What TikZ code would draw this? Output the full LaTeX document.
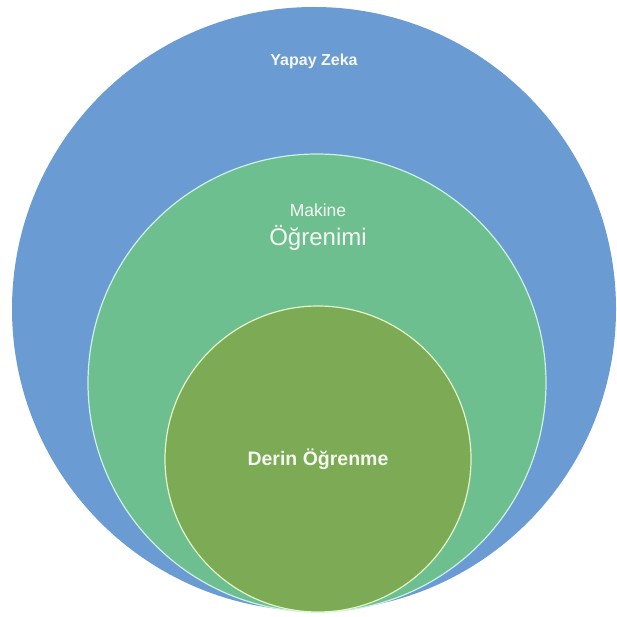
\documentclass[tikz,border=0pt]{standalone}
\usepackage{fontspec}
\setmainfont{Liberation Sans}
\definecolor{aiblue}{RGB}{106,155,210}
\definecolor{mlgreen}{RGB}{110,191,144}
\definecolor{dlgreen}{RGB}{125,170,84}
\definecolor{mledge}{RGB}{205,240,228}
\definecolor{dledge}{RGB}{228,245,200}
\definecolor{txt}{RGB}{245,248,242}
\begin{document}
\begin{tikzpicture}[x=1pt,y=-1pt,
  ring/.style={circle,inner sep=0pt,minimum size=#1},
  lbl/.style={text=txt,inner sep=0pt,align=center}]
\useasboundingbox (0,0) rectangle (616,617);
\fill[white] (0,0) rectangle (616,617);
\node[ring=604pt,fill=aiblue] (ai) at (314,309) {};
\node[ring=458pt,fill=mlgreen,draw=mledge,line width=1.2pt] (ml) at (317,383) {};
\node[ring=306pt,fill=dlgreen,draw=dledge,line width=1.2pt] (dl) at (318,459) {};
\node[lbl,font=\fontsize{16}{19}\selectfont\bfseries] (ait) at (314,61) {Yapay Zeka};
\node[lbl,font=\fontsize{17.5}{20}\selectfont] (mlt1) at (318,210) {Makine};
\node[lbl,font=\fontsize{24}{28}\selectfont] (mlt2) at (318,238) {Öğrenimi};
\node[lbl,font=\fontsize{19.5}{23}\selectfont\bfseries] (dlt) at (318,459) {Derin Öğrenme};
\end{tikzpicture}
\end{document}
